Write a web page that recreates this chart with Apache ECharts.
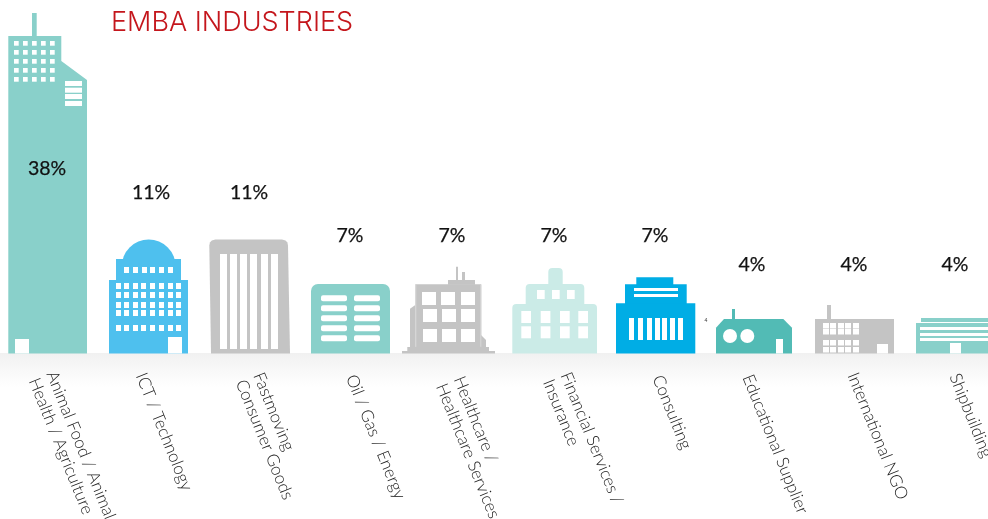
<!DOCTYPE html>
<html>
<head>
<meta charset="utf-8">
<script src="https://cdn.jsdelivr.net/npm/echarts@6/dist/echarts.min.js"></script>
<style>html,body{margin:0;padding:0;background:#fff}#c{width:988px;height:519px}</style>
</head>
<body>
<div id="c"></div>
<script>
const categories = ['Animal Food / Animal\nHealth / Agriculture','ICT / Technology','Fastmoving\nConsumer Goods','Oil / Gas / Energy','Healthcare /\nHealthcare Services','Financial Services /\nInsurance','Consulting','Educational Supplier','International NGO','Shipbuilding'];
const shares = [38, 11, 11, 7, 7, 7, 7, 4, 4, 4];
const buildingHeights = [340.5, 114, 114, 69.5, 86.8, 85.5, 76.2, 44.5, 48.5, 35.5];

const TEAL = '#89d0ca', SKY = '#4ec0ee', GREY = '#c4c4c4', PALE = '#cbebe7', CYAN = '#00ade5', GREEN = '#52bbb5', W = '#ffffff';
const R = (x, y, w, h, fill, r) => ({ k: 'rect', x, y, w, h, fill, r: r || 0 });
const P = (pts, fill) => ({ k: 'poly', pts, fill });
const C = (x, y, r, fill) => ({ k: 'circle', x, y, r, fill });
const G = (xs, ys, w, h, fill, r) => xs.flatMap(x => ys.map(y => R(x, y, w, h, fill, r)));

// Each building's drawing: left edge from category centre, label placement, drawn in its own unit box.
const plans = [
  { dx: -38.7, h: 340.5, lx: 0, ly: 156, parts: [
    R(23.7, 0, 4.7, 24, TEAL),
    P([[0,23],[53,23],[53,48],[78.7,67],[78.7,340.5],[0,340.5]], TEAL),
    ...G([5.7,14.7,23.7,32.7,41.7],[28,37,46,55,64],4.7,4.7,W),
    ...G([56.7],[68,74.7,81,88],17,5,W),
    R(6.7,326,14,14.5,W)] },
  { dx: -39, h: 114, lx: 3, ly: -46.5, parts: [
    C(39.7,27,27,SKY), R(7,19.5,65,21.5,SKY), R(0,40.5,79,73.5,SKY),
    ...G([15,24,33,41,50,59],[27.5],5,6,W),
    ...G([7,15,24,32,41,50,59,67],[43.5,52.5,62.5,70.5,85.5],5,6,W),
    R(59,97.5,14,16.5,W)] },
  { dx: -39.7, h: 114, lx: 0, ly: -46.5, parts: [
    P([[0,6],[0.6,3],[2.5,1],[6,0],[72.7,0],[76.2,1],[78.1,3],[78.7,6],[80.7,114],[1.7,114]], GREY),
    ...G([10.7,20.7,30.7,40.7,51.7,61.7],[14.5],7,95,W)] },
  { dx: -39, h: 69.5, lx: 0, ly: -48, parts: [
    R(0,0,79,69.5,TEAL,[7,7,0,0]),
    ...G([10,43],[11.3,21.3,31.3,41.3,51.3],26,6,W,2)] },
  { dx: -49, h: 86.8, lx: 1, ly: -30.7, parts: [
    R(0,84.3,93,2.5,GREY), R(5.3,80.3,81.7,4.5,GREY), R(13.3,17.6,66,63,GREY),
    P([[8,42],[13.3,38.3],[13.3,80.3],[8,80.3]], GREY),
    P([[79,68.3],[84,73.3],[84,80.3],[79,80.3]], GREY),
    R(46,13.3,27,4.8,GREY), R(54,0,2,14,GREY), R(60,5.3,3,8.5,GREY),
    R(13.3,18,1,62,'#d9d9d9'), R(78.3,18,1,62,'#d9d9d9'),
    ...G([20,39,59],[25.3],14,13,W),
    ...G([21,40,59],[42.3,62.3],14,13,W)] },
  { dx: -39.7, h: 85.5, lx: 2, ly: -32, parts: [
    R(36,0,14.4,30,PALE,4), R(13.4,16,58.6,40,PALE,4), R(0,36,84.7,49.5,PALE,[4,4,0,0]),
    ...G([24.7,39.7,54.7],[22],7.7,9,W),
    ...G([9,28.4,47.7,66],[43,58.3],9.7,12,W)] },
  { dx: -37, h: 76.2, lx: 2, ly: -41.7, parts: [
    R(20.3,0,37,8,CYAN), R(9,7,61.7,30,CYAN), R(0,26,79.3,50.2,CYAN),
    ...G([18],[10.7,16.7],44,3,W),
    ...G([13,22,31,39,46,54,62],[40.7],5,22,W)] },
  { dx: -38, h: 44.5, lx: -2, ly: -44, parts: [
    R(16,0,3,10.5,GREEN),
    P([[8,10],[67.3,10],[76,18.7],[76,44.5],[0,44.5],[0,18.7]], GREEN),
    C(14,27,7,W), C(31.3,27,7,W), R(60,30,7,14.5,W)] },
  { dx: -40, h: 48.5, lx: -1, ly: -40, parts: [
    R(12,0,4,14.5,GREY), R(0,14,79,34.5,GREY),
    ...G([8,15,23,30,38],[18,24,35,42],6,5.5,W),
    R(62,39,11,9.5,W)] },
  { dx: -40, h: 35.5, lx: -1, ly: -53, parts: [
    R(5,0,80,4,TEAL), R(0,5,80,30.5,TEAL),
    ...G([4],[9,15,20],80,3,W),
    R(34,25,11,10.5,W)] }
];
// Slanted label nudges: across the text (negative = towards lower left) and along it.
const labelNudge = [[-6,2.7],[-8,0],[-2,6],[-1,4.9],[-5,8.8],[2,7.2],[2,6.6],[-8,1.7],[-3.5,1.4],[-3,2.9]];

const labelFont = { fontFamily: 'Lato', fontWeight: 300, fontSize: 17, lineHeight: 19, color: '#222222' };
const labelRich = {};
categories.forEach((c, i) => {
  const [across, along] = labelNudge[i];
  c.split('\n').forEach((t, j) => {
    const top = across < 0 ? -2 * across : 0;
    const bottom = across > 0 ? 2 * across : 0;
    labelRich['l' + i + '_' + j] = Object.assign({ padding: [top, 0, bottom, along] }, labelFont);
  });
});

function renderBuilding(params, api) {
  const i = api.value(0);
  const base = api.coord([i, 0]);
  const top = api.coord([i, api.value(1)]);
  const band = api.size([1, 0])[0];
  const plan = plans[i];
  const sx = band / 101, sy = (base[1] - top[1]) / plan.h;
  const ox = base[0] + plan.dx * sx, oy = top[1];
  const children = plan.parts.map(p => {
    const style = { fill: p.fill };
    if (p.k === 'rect') return { type: 'rect', shape: { x: ox + p.x * sx, y: oy + p.y * sy, width: p.w * sx, height: p.h * sy, r: p.r }, style };
    if (p.k === 'circle') return { type: 'circle', shape: { cx: ox + p.x * sx, cy: oy + p.y * sy, r: p.r * sx }, style };
    return { type: 'polygon', shape: { points: p.pts.map(q => [ox + q[0] * sx, oy + q[1] * sy]) }, style };
  });
  children.push({ type: 'text', style: {
    x: base[0] + plan.lx * sx, y: oy + plan.ly, text: api.value(2) + '%',
    fill: '#111111', stroke: '#111111', lineWidth: 0.25, font: '400 19.5px Lato', align: 'center', verticalAlign: 'middle' } });
  return { type: 'group', children };
}

const chart = echarts.init(document.getElementById('c'), null, { renderer: 'canvas' });
chart.setOption({
  animation: false,
  backgroundColor: '#ffffff',
  title: { text: 'EMBA INDUSTRIES', left: 111, top: 9, padding: 0, textStyle: { color: '#c4161c', fontFamily: 'Inter', fontWeight: 300, fontSize: 27 } },
  graphic: [
    { type: 'rect', z: 0, shape: { x: 0, y: 353, width: 988, height: 34 },
      style: { fill: new echarts.graphic.LinearGradient(0, 0, 0, 1, [{ offset: 0, color: '#f1f1f1' }, { offset: 1, color: '#ffffff' }]) } },
    { type: 'text', z: 3, x: 704.5, y: 317.5, style: { text: '4', font: '5px Lato', fill: '#333333' } }
  ],
  grid: { left: -3.5, width: 1010, top: 0, height: 353.5, containLabel: false, outerBoundsMode: 'none' },
  xAxis: { type: 'category', data: categories,
    axisLine: { show: false }, axisTick: { show: false },
    axisLabel: Object.assign({ interval: 0, rotate: -68, margin: 17, hideOverlap: false, rich: labelRich,
      formatter: (v, i) => v.split('\n').map((t, j) => '{l' + i + '_' + j + '|' + t + '}').join('\n') }, labelFont) },
  yAxis: { type: 'value', min: 0, max: 353.5, show: false, splitLine: { show: false } },
  series: [{ type: 'custom', renderItem: renderBuilding, clip: false,
    encode: { x: 0, y: 1 },
    data: categories.map((c, i) => [i, buildingHeights[i], shares[i]]) }]
});
</script>
</body>
</html>
